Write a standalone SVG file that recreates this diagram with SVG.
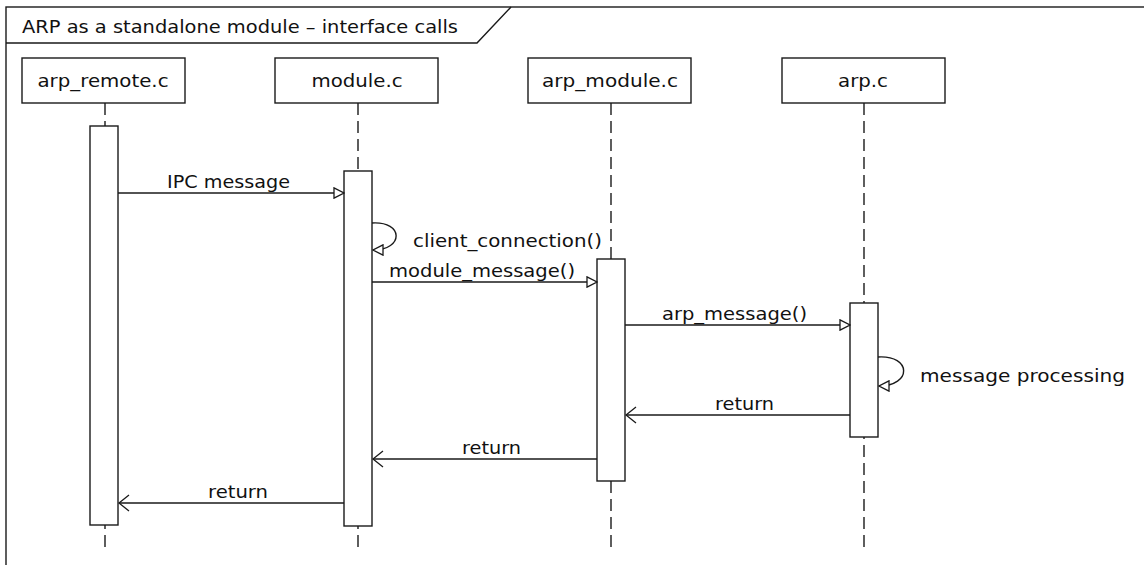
<svg xmlns="http://www.w3.org/2000/svg" width="1144" height="565" viewBox="0 0 1144 565">
  <style>
    .ln { stroke: #1a1a1a; stroke-width: 1.4; fill: none; }
    .box { stroke: #1a1a1a; stroke-width: 1.4; fill: #ffffff; }
    .life { stroke: #1a1a1a; stroke-width: 1.4; stroke-dasharray: 12 6; fill: none; }
    .txt { font-family: "DejaVu Sans", "Liberation Sans", sans-serif; font-size: 17px; fill: #111111; }
    .mid { text-anchor: middle; }
  </style>
  <defs>
    <!-- hollow triangle for synchronous calls -->
    <marker id="call" viewBox="0 0 12 12" refX="11" refY="6" markerWidth="12" markerHeight="12" markerUnits="userSpaceOnUse" orient="auto">
      <path d="M1,0.8 L11,6 L1,11.2 Z" fill="#ffffff" stroke="#1a1a1a" stroke-width="1.3"/>
    </marker>
    <!-- open V head for returns -->
    <marker id="ret" viewBox="0 0 12 18" refX="11" refY="9" markerWidth="12" markerHeight="18" markerUnits="userSpaceOnUse" orient="auto">
      <path d="M1,1 L11,9 L1,17" fill="none" stroke="#1a1a1a" stroke-width="1.3"/>
    </marker>
  </defs>
  <rect width="1144" height="565" fill="#ffffff"/>

  <!-- frame -->
  <g id="frame">
    <rect class="ln" x="6" y="7" width="1150" height="570"/>
    <path class="ln" d="M6,43 L477,43 L511,7"/>
    <text class="txt" x="22" y="33" textLength="436" lengthAdjust="spacingAndGlyphs">ARP as a standalone module – interface calls</text>
  </g>

  <!-- lifelines -->
  <g id="lifelines">
    <line class="life" x1="105" y1="103" x2="105" y2="550"/>
    <line class="life" x1="358" y1="103" x2="358" y2="550"/>
    <line class="life" x1="611" y1="103" x2="611" y2="550"/>
    <line class="life" x1="864" y1="103" x2="864" y2="550"/>
  </g>

  <g id="arp_remote">
    <rect class="box" x="22" y="58" width="163" height="45"/>
    <text class="txt mid" x="103" y="87" textLength="131" lengthAdjust="spacingAndGlyphs">arp_remote.c</text>
    <rect class="box" x="90" y="126" width="28" height="399"/>
  </g>
  <g id="module">
    <rect class="box" x="275" y="58" width="163" height="45"/>
    <text class="txt mid" x="357" y="87" textLength="91" lengthAdjust="spacingAndGlyphs">module.c</text>
    <rect class="box" x="344" y="171" width="28" height="355"/>
  </g>
  <g id="arp_module">
    <rect class="box" x="528" y="58" width="163" height="45"/>
    <text class="txt mid" x="610" y="87" textLength="136" lengthAdjust="spacingAndGlyphs">arp_module.c</text>
    <rect class="box" x="597" y="259" width="28" height="222"/>
  </g>
  <g id="arp">
    <rect class="box" x="782" y="58" width="163" height="45"/>
    <text class="txt mid" x="863" y="87" textLength="50" lengthAdjust="spacingAndGlyphs">arp.c</text>
    <rect class="box" x="850" y="303" width="28" height="134"/>
  </g>

  <!-- messages -->
  <g id="connectors">
    <line class="ln" x1="118" y1="193" x2="344" y2="193" marker-end="url(#call)"/>
    <path class="ln" d="M372,223 C404,221 404,250 373,250" marker-end="url(#call)"/>
    <line class="ln" x1="372" y1="282" x2="597" y2="282" marker-end="url(#call)"/>
    <line class="ln" x1="625" y1="325" x2="850" y2="325" marker-end="url(#call)"/>
    <path class="ln" d="M878,357 C912,355 912,386 879,386" marker-end="url(#call)"/>
    <line class="ln" x1="850" y1="415" x2="626" y2="415" marker-end="url(#ret)"/>
    <line class="ln" x1="597" y1="459" x2="373" y2="459" marker-end="url(#ret)"/>
    <line class="ln" x1="344" y1="503" x2="119" y2="503" marker-end="url(#ret)"/>
  </g>

  <g id="labels">
    <text class="txt" x="167" y="188" textLength="123" lengthAdjust="spacingAndGlyphs">IPC message</text>
    <text class="txt" x="413" y="247" textLength="189" lengthAdjust="spacingAndGlyphs">client_connection()</text>
    <text class="txt" x="389" y="277" textLength="186" lengthAdjust="spacingAndGlyphs">module_message()</text>
    <text class="txt" x="662" y="320" textLength="145" lengthAdjust="spacingAndGlyphs">arp_message()</text>
    <text class="txt" x="920" y="382" textLength="205" lengthAdjust="spacingAndGlyphs">message processing</text>
    <text class="txt" x="715" y="410" textLength="59" lengthAdjust="spacingAndGlyphs">return</text>
    <text class="txt" x="462" y="454" textLength="59" lengthAdjust="spacingAndGlyphs">return</text>
    <text class="txt" x="208" y="498" textLength="60" lengthAdjust="spacingAndGlyphs">return</text>
  </g>
</svg>
